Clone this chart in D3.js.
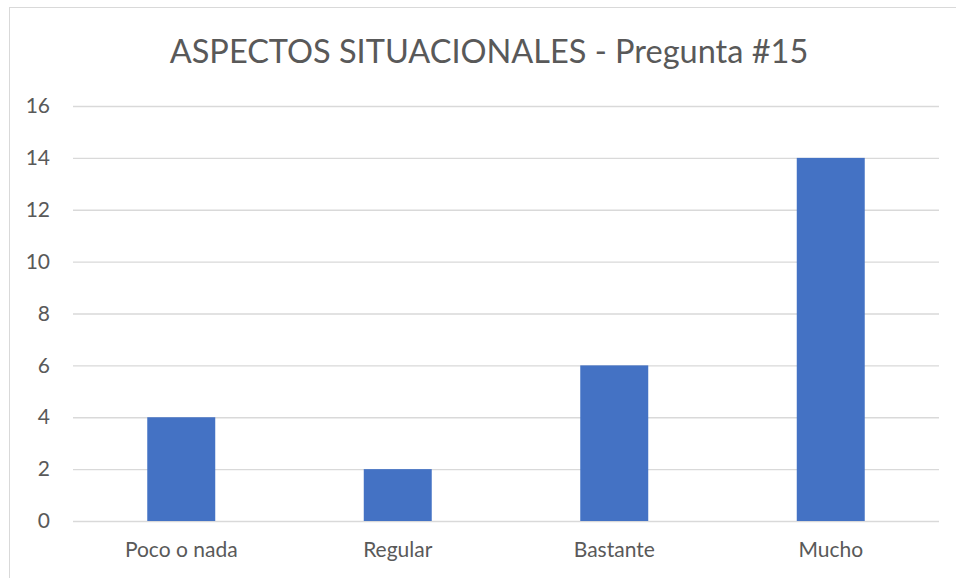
<!DOCTYPE html>
<html><head><meta charset="utf-8">
<script src="https://cdn.jsdelivr.net/npm/d3@7"></script>
<style>body{margin:0;background:#fff}svg{display:block}text{font-family:Lato,"Open Sans",sans-serif}</style>
</head><body>
<svg id="c" width="956" height="578"></svg>
<script>
const title = "ASPECTOS SITUACIONALES - Pregunta #15";
const categories = ["Poco o nada", "Regular", "Bastante", "Mucho"];
const values = [4, 2, 6, 14];
const yTicks = [0, 2, 4, 6, 8, 10, 12, 14, 16];

const svg = d3.select("#c");
svg.append("rect").attr("x", 9.5).attr("y", 7.5).attr("width", 960).attr("height", 600)
  .attr("fill", "#fff").attr("stroke", "#d9d9d9").attr("stroke-width", 1);

const pLeft = 73, pRight = 939, pTop = 106, pBottom = 521;
const x = d3.scaleBand().domain(categories).range([pLeft, pRight]).padding(0);
const y = d3.scaleLinear().domain([0, 16]).range([pBottom, pTop]);

svg.append("text").attr("x", 489).attr("y", 63).attr("text-anchor", "middle")
  .attr("font-size", 32.5).attr("fill", "#595959").text(title);

const yAxis = d3.axisLeft(y).tickValues(yTicks).tickSize(-(pRight - pLeft)).tickPadding(23);
const gy = svg.append("g").attr("transform", `translate(${pLeft},0)`).call(yAxis);
gy.select(".domain").remove();
gy.selectAll(".tick line").attr("stroke", "#d9d9d9").attr("stroke-width", 1.3);
gy.selectAll(".tick text").attr("font-size", 21).attr("fill", "#595959").attr("font-family", "Lato, sans-serif");

const bw = x.bandwidth() * 0.314;
svg.append("g").selectAll("rect").data(values).join("rect")
  .attr("x", (d, i) => x(categories[i]) + x.bandwidth() / 2 - bw / 2)
  .attr("y", d => y(d)).attr("width", bw).attr("height", d => y(0) - y(d))
  .attr("fill", "#4472c4");

const xAxis = d3.axisBottom(x).tickSize(0).tickPadding(21);
const gx = svg.append("g").attr("transform", `translate(0,${pBottom})`).call(xAxis);
gx.select(".domain").remove();
gx.selectAll(".tick text").attr("font-size", 21).attr("fill", "#595959").attr("font-family", "Lato, sans-serif");
</script>
</body></html>
